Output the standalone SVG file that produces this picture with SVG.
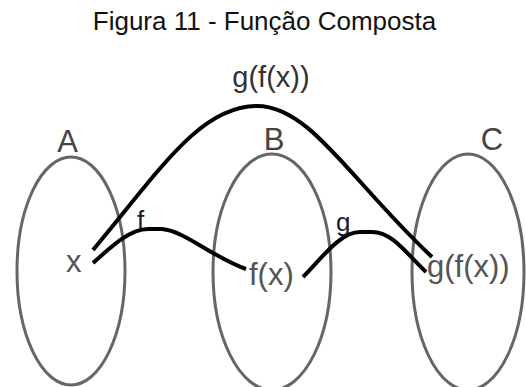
<svg xmlns="http://www.w3.org/2000/svg" width="526" height="387" viewBox="0 0 526 387">
<style>
text{font-family:"Liberation Sans",Arial,sans-serif}
.set{fill:none;stroke:#666;stroke-width:3}
.setl{font-size:31px;fill:#444;text-anchor:middle}
.el{font-size:31px;fill:#555}
.fn{font-size:26px;fill:#1a1a2a}
.conn{fill:none;stroke:#000;stroke-width:4;stroke-linecap:butt;stroke-linejoin:round}
</style>
<rect width="526" height="387" fill="#fff"/>
<text x="264.5" y="30" font-size="26" fill="#111" text-anchor="middle">Figura 11 - Função Composta</text>
<g id="setA">
<ellipse class="set" cx="71" cy="271" rx="54" ry="114"/>
<text class="setl" x="67.5" y="152">A</text>
</g>
<g id="setB">
<ellipse class="set" cx="272" cy="272" rx="59" ry="118"/>
<text class="setl" x="274" y="150">B</text>
</g>
<g id="setC">
<ellipse class="set" cx="468" cy="272" rx="56" ry="118"/>
<text class="setl" x="492" y="150">C</text>
</g>
<g id="nodeX"><text class="el" x="66" y="272">x</text></g>
<g id="nodeFx"><text class="el" x="249" y="285">f(x)</text></g>
<g id="nodeGfx"><text class="el" x="427" y="277">g(f(x))</text></g>
<g id="connectors">
<path class="conn" d="M93,250 C160,170 200,106 257,106 C310,106 350,180 432,257"/>
<path class="conn" d="M93,263 C112,246 130,229 148,229 L162,229 C185,231 212,257 246,269"/>
<path class="conn" d="M303,277 C322,258 340,232 360,232 L372,232 C392,232 405,252 426,272"/>
<text x="271" y="87" font-size="29" fill="#333" text-anchor="middle">g(f(x))</text>
<text class="fn" x="137" y="229">f</text>
<text class="fn" x="336" y="231">g</text>
</g>
</svg>
